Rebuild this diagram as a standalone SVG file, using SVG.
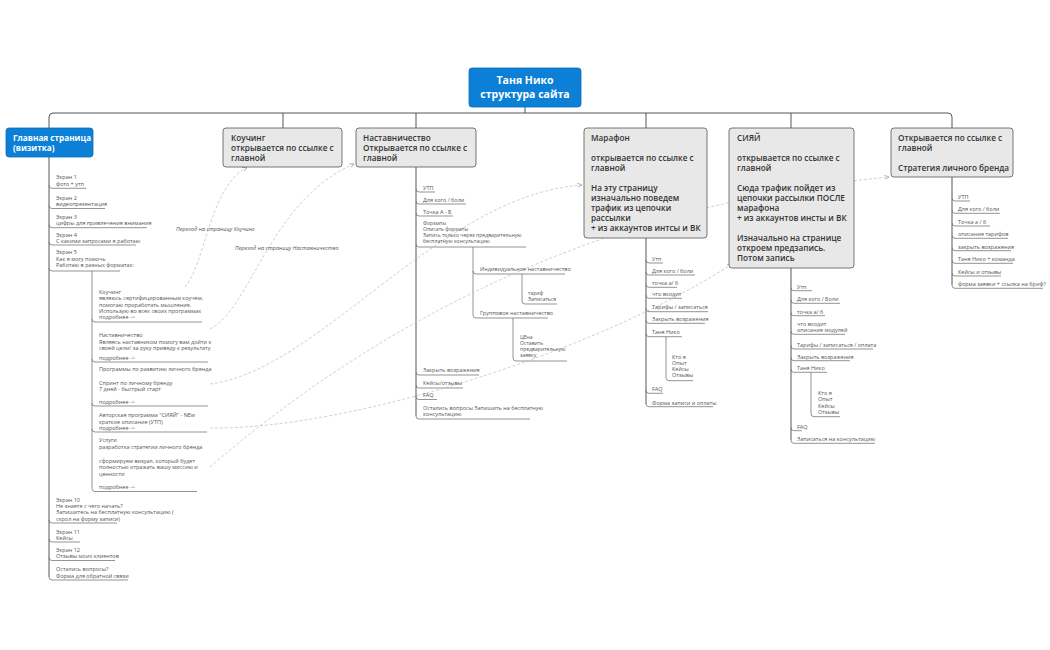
<svg xmlns="http://www.w3.org/2000/svg" width="1050" height="650" viewBox="0 0 1050 650">
<defs>
<style>
.bx{fill:#e8e8e8;stroke:#555;stroke-width:0.8}
.bb{fill:#0b80d6;stroke:#0a6cb5;stroke-width:0.8}
.bt{font-family:"Open Sans","Noto Sans",sans-serif;font-weight:600;font-size:8.2px;fill:#333}
.wt{fill:#fff;font-weight:700}
.tt{font-family:"Open Sans","Noto Sans",sans-serif;font-weight:700;font-size:10.5px;fill:#fff;text-anchor:middle}
.s{font-family:"Open Sans","Noto Sans",sans-serif;font-size:5.5px;fill:#555}
.sm{font-size:5.1px}
.ln{fill:none;stroke:#444;stroke-width:0.9}
.ul{fill:none;stroke:#666;stroke-width:0.7}
.rel{fill:none;stroke:#bbb;stroke-width:0.7;stroke-dasharray:3 2}
.rl{font-family:"Open Sans","Noto Sans",sans-serif;font-style:italic;font-size:5.5px;fill:#555}
</style>
<marker id="ar" viewBox="0 0 6 6" refX="5.5" refY="3" markerWidth="5" markerHeight="5" markerUnits="userSpaceOnUse" orient="auto">
<path d="M0,0.5 L6,3 L0,5.5" fill="none" stroke="#aaa" stroke-width="1"/>
</marker>
</defs>
<rect width="1050" height="650" fill="#fff"/>

<g id="connectors">
<path class="ln" d="M525,107 V113 M49,128 V117 Q49,113 53,113 H948 Q952,113 952,117 V128 M283,113 V128 M416,113 V128 M646,113 V128 M791,113 V128"/>
<path class="ln" d="M49,157 V577"/>
<path class="ul" d="M49,185.3 Q49,188.3 52,188.3 H86 M49,205.5 Q49,208.5 52,208.5 H105 M49,224.7 Q49,227.7 52,227.7 H147 M49,242 Q49,245 52,245 H136 M49,268 Q49,271 52,271 H120 M49,520 Q49,523 52,523 H117 M49,539 Q49,542 52,542 H80 M49,557.5 Q49,560.5 52,560.5 H115 M49,577 Q49,580 52,580 H128"/>
<path class="ul" d="M92,271 V488.5 M92,319 Q92,322 95,322 H202 M92,359 Q92,362 95,362 H208 M92,403 Q92,406 95,406 H208 M92,429 Q92,432 95,432 H207 M92,488.5 Q92,491.5 95,491.5 H197"/>
<path class="ln" d="M416,167 V416"/>
<path class="ul" d="M416,189 Q416,192 419,192 H435 M416,201 Q416,204 419,204 H466 M416,213 Q416,216 419,216 H453 M416,244 Q416,247 419,247 H526 M416,372 Q416,375 419,375 H479 M416,385 Q416,388 419,388 H463 M416,396.5 Q416,399.5 419,399.5 H437 M416,416 Q416,419 419,419 H530"/>
<path class="ul" d="M473,247 V315 M473,271 Q473,274 476,274 H565 M473,315 Q473,318 476,318 H548"/>
<path class="ul" d="M522,274 V301 Q522,304 525,304 H557"/>
<path class="ul" d="M513,318 V358 Q513,361 516,361 H567"/>
<path class="ln" d="M646,238 V404"/>
<path class="ul" d="M646,260 Q646,263 649,263 H663 M646,272 Q646,275 649,275 H695 M646,284.3 Q646,287.3 649,287.3 H677 M646,295.3 Q646,298.3 649,298.3 H682 M646,308.7 Q646,311.7 649,311.7 H708 M646,320.3 Q646,323.3 649,323.3 H705 M646,333.7 Q646,336.7 649,336.7 H682 M646,390.3 Q646,393.3 649,393.3 H663 M646,403.7 Q646,406.7 649,406.7 H713"/>
<path class="ul" d="M666,336.7 V377.7 Q666,380.7 669,380.7 H693"/>
<path class="ln" d="M791,268 V440.3"/>
<path class="ul" d="M791,287.7 Q791,290.7 794,290.7 H812 M791,300.3 Q791,303.3 794,303.3 H840 M791,312.7 Q791,315.7 794,315.7 H825 M791,331.3 Q791,334.3 794,334.3 H845 M791,346 Q791,349 794,349 H873 M791,357.7 Q791,360.7 794,360.7 H850 M791,369.3 Q791,372.3 794,372.3 H827 M791,427.7 Q791,430.7 794,430.7 H802 M791,440.3 Q791,443.3 794,443.3 H875"/>
<path class="ul" d="M811,372.3 V413.7 Q811,416.7 814,416.7 H840"/>
<path class="ln" d="M952,177 V285.3"/>
<path class="ul" d="M952,198 Q952,201 955,201 H970 M952,210.3 Q952,213.3 955,213.3 H1000 M952,223 Q952,226 955,226 H990 M952,235.3 Q952,238.3 955,238.3 H1008 M952,247.7 Q952,250.7 955,250.7 H1011 M952,260.3 Q952,263.3 955,263.3 H1013 M952,273 Q952,276 955,276 H1001 M952,285.3 Q952,288.3 955,288.3 H1043"/>
<path class="rel" marker-end="url(#ar)" d="M185,287 C205,265 210,185 247,167.5"/>
<path class="rel" marker-end="url(#ar)" d="M210,329 C250,310 270,200 354,164"/>
<path class="rel" marker-end="url(#ar)" d="M210,384 C320,370 440,195 582,185"/>
<path class="rel" marker-end="url(#ar)" d="M210,428 C350,430 600,350 732,264"/>
<path class="rel" marker-end="url(#ar)" d="M210,467 C450,260 700,195 889,177"/>
<text class="rl" x="176" y="231">Переход на страницу Коучинг</text>
<text class="rl" x="235" y="250">Переход на страницу Наставничество</text>
</g>

<g id="title"><rect x="469" y="68" width="112" height="39" rx="3" class="bb"/>
<text class="tt"><tspan x="525" y="84">Таня Нико</tspan><tspan x="525" y="98">структура сайта</tspan></text></g>

<g id="glavnaya"><rect x="6" y="128" width="87" height="29" rx="3" class="bb"/>
<text class="bt wt"><tspan x="13" y="140.5">Главная страница</tspan><tspan x="13" y="151">(визитка)</tspan></text></g>

<g id="kouching"><rect x="223" y="128" width="119" height="39" rx="3" class="bx"/>
<text class="bt"><tspan x="231" y="141">Коучинг</tspan><tspan x="231" y="151">открывается по ссылке с</tspan><tspan x="231" y="161">главной</tspan></text></g>

<g id="nastavnichestvo"><rect x="356" y="128" width="120" height="39" rx="3" class="bx"/>
<text class="bt"><tspan x="363" y="141">Наставничество</tspan><tspan x="363" y="151">Открывается по ссылке с</tspan><tspan x="363" y="161">главной</tspan></text></g>

<g id="marafon"><rect x="584" y="128" width="123" height="110" rx="3" class="bx"/>
<text class="bt"><tspan x="591" y="141">Марафон</tspan><tspan x="591" y="161">открывается по ссылке с</tspan><tspan x="591" y="171">главной</tspan><tspan x="591" y="191">На эту страницу</tspan><tspan x="591" y="201">изначально поведем</tspan><tspan x="591" y="211">трафик из цепочки</tspan><tspan x="591" y="221">рассылки</tspan><tspan x="591" y="231">+ из аккаунтов интсы и ВК</tspan></text></g>

<g id="siyai"><rect x="729" y="128" width="125" height="140" rx="3" class="bx"/>
<text class="bt"><tspan x="737" y="141">СИЯЙ</tspan><tspan x="737" y="161">открывается по ссылке с</tspan><tspan x="737" y="171">главной</tspan><tspan x="737" y="191">Сюда трафик пойдет из</tspan><tspan x="737" y="201">цепочки рассылки ПОСЛЕ</tspan><tspan x="737" y="211">марафона</tspan><tspan x="737" y="221">+ из аккаунтов инсты и ВК</tspan><tspan x="737" y="241">Изначально на странице</tspan><tspan x="737" y="251">откроем предзапись.</tspan><tspan x="737" y="261">Потом запись</tspan></text></g>

<g id="strategiya"><rect x="891" y="128" width="122" height="49" rx="3" class="bx"/>
<text class="bt"><tspan x="898" y="141">Открывается по ссылке с</tspan><tspan x="898" y="151">главной</tspan><tspan x="898" y="171">Стратегия личного бренда</tspan></text></g>

<g id="glavnaya-items" class="s">
<text><tspan x="56" y="179">Экран 1</tspan><tspan x="56" y="186">фото + утп</tspan></text>
<text><tspan x="56" y="200">Экран 2</tspan><tspan x="56" y="206.3">видеопрезентация</tspan></text>
<text><tspan x="56" y="219">Экран 3</tspan><tspan x="56" y="225.3">цифры для привлечения внимания</tspan></text>
<text><tspan x="56" y="236.7">Экран 4</tspan><tspan x="56" y="243">С какими запросами я работаю</tspan></text>
<text><tspan x="56" y="254">Экран 5</tspan><tspan x="56" y="260.5">Как я могу помочь</tspan><tspan x="56" y="267">Работаю в разных форматах:</tspan></text>
<text><tspan x="99" y="294">Коучинг</tspan><tspan x="99" y="300.3">являюсь сертифицированным коучем,</tspan><tspan x="99" y="306.6">помогаю проработать мышление.</tspan><tspan x="99" y="312.9">Использую во всех своих программах</tspan><tspan x="99" y="319.2">подробнее -&gt;</tspan></text>
<text><tspan x="99" y="337">Наставничество</tspan><tspan x="99" y="343.5">Являясь наставником помогу вам дойти к</tspan><tspan x="99" y="350">своей цели/ за руку приведу к результату</tspan><tspan x="99" y="360">подробнее -&gt;</tspan></text>
<text><tspan x="99" y="371">Программы по развитию личного бренда</tspan><tspan x="99" y="384.5">Спринт по личному бренду</tspan><tspan x="99" y="391">7 дней - быстрый старт</tspan><tspan x="99" y="404">подробнее -&gt;</tspan></text>
<text><tspan x="99" y="417">Авторская программа "СИЯЙ" - NEw</tspan><tspan x="99" y="423.5">краткое описание (УТП)</tspan><tspan x="99" y="430">подробнее -&gt;</tspan></text>
<text><tspan x="99" y="442">Услуги</tspan><tspan x="99" y="448.7">разработка стратегии личного бренда</tspan><tspan x="99" y="462.5">сформируем визуал, который будет</tspan><tspan x="99" y="469">полностью отражать вашу миссию и</tspan><tspan x="99" y="475.5">ценности</tspan><tspan x="99" y="489">подробнее -&gt;</tspan></text>
<text><tspan x="56" y="501.5">Экран  10</tspan><tspan x="56" y="507.8">Не знаете с чего начать?</tspan><tspan x="56" y="514.1">Запишитесь на бесплатную консультацию (</tspan><tspan x="56" y="520.6">скрол на форму записи)</tspan></text>
<text><tspan x="56" y="533.5">Экран 11</tspan><tspan x="56" y="539.8">Кейсы</tspan></text>
<text><tspan x="56" y="551.8">Экран 12</tspan><tspan x="56" y="558.3">Отзывы моих клиентов</tspan></text>
<text><tspan x="56" y="571">Остались вопросы?</tspan><tspan x="56" y="577.6">Форма для обратной связи</tspan></text>
</g>

<g id="nastavnichestvo-items" class="s">
<text x="423" y="190">УТП</text>
<text x="423" y="202">Для кого / боли</text>
<text x="423" y="213.5">Точка А - Б</text>
<text class="sm"><tspan x="423" y="225">Форматы</tspan><tspan x="423" y="231">Описать форматы</tspan><tspan x="423" y="237">Запись только через предварительную</tspan><tspan x="423" y="243">бесплатную консультацию</tspan></text>
<text x="480" y="271">Индивидуальное наставничество</text>
<text class="sm"><tspan x="528" y="295">тариф</tspan><tspan x="528" y="301">Записаться</tspan></text>
<text x="480" y="315">Групповое наставничество</text>
<text class="sm"><tspan x="520" y="338.5">ЦЕна</tspan><tspan x="520" y="344.5">Оставить</tspan><tspan x="520" y="350.5">предварительную</tspan><tspan x="520" y="356.5">заявку</tspan></text>
<text x="423" y="372">Закрыть возражения</text>
<text x="423" y="385">Кейсы/отзывы</text>
<text x="423" y="397">FAQ</text>
<text><tspan x="423" y="409.5">Остались вопросы Запишить на бесплатную</tspan><tspan x="423" y="416">консультацию</tspan></text>
</g>

<g id="marafon-items" class="s">
<text x="652" y="261">Утп</text>
<text x="652" y="273">Для кого / боли</text>
<text x="652" y="285">точка а/ б</text>
<text x="652" y="296">что входит</text>
<text x="652" y="309">Тарифы / записаться</text>
<text x="652" y="321">Закрыть возражения</text>
<text x="652" y="334">Таня Нико</text>
<text><tspan x="672" y="358.5">Кто я</tspan><tspan x="672" y="364.8">Опыт</tspan><tspan x="672" y="371.1">Кейсы</tspan><tspan x="672" y="377.4">Отзывы</tspan></text>
<text x="652" y="391">FAQ</text>
<text x="652" y="404.5">Форма записи и оплаты</text>
</g>

<g id="siyai-items" class="s">
<text x="797" y="288.5">Утп</text>
<text x="797" y="301">Для кого / Боли</text>
<text x="797" y="313.5">точка а/ б</text>
<text><tspan x="797" y="325.7">что входит</tspan><tspan x="797" y="332">описание модулей</tspan></text>
<text x="797" y="346.5">Тарифы / записаться / оплата</text>
<text x="797" y="358.5">Закрыть возражения</text>
<text x="797" y="370">Таня Нико</text>
<text><tspan x="818" y="395">Кто я</tspan><tspan x="818" y="401.3">Опыт</tspan><tspan x="818" y="407.6">Кейсы</tspan><tspan x="818" y="413.9">Отзывы</tspan></text>
<text x="797" y="428.5">FAQ</text>
<text x="797" y="440.8">Записаться на консультацию</text>
</g>

<g id="strategiya-items" class="s">
<text x="958" y="199">УТП</text>
<text x="958" y="211.3">Для кого / боли</text>
<text x="958" y="223.7">Точка а / б</text>
<text x="958" y="236">описание тарифов</text>
<text x="958" y="248.5">закрыть возражения</text>
<text x="958" y="261">Таня Нико + команда</text>
<text x="958" y="273.5">Кейсы и отзывы</text>
<text x="958" y="286">форма заявки + ссылка на бриф?</text>
</g>
</svg>
